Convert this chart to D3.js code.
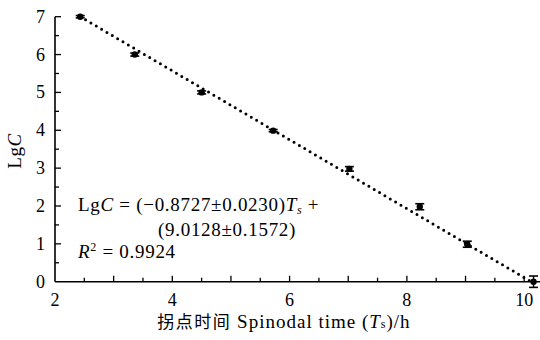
<!DOCTYPE html>
<html>
<head>
<meta charset="utf-8">
<script src="https://cdn.jsdelivr.net/npm/d3@7"></script>
<style>
  body { margin: 0; background: #fff; }
  svg text { font-family: "Liberation Serif", "Times New Roman", serif; fill: #000; }
</style>
</head>
<body>
<svg width="540" height="340"></svg>
<script>
// data
var spinodalTime = [2.43, 3.36, 4.50, 5.72, 7.02, 8.22, 9.03, 10.16];
var lgC          = [7.00, 6.00, 5.00, 3.99, 2.98, 1.98, 0.99, 0.00];
var lgCError     = [0.03, 0.04, 0.04, 0.03, 0.06, 0.08, 0.08, 0.15];
var fitX = [2.43, 10.12];   // dotted fit line ends
var fitY = [7.00, 0.00];
var xTicks = [2, 4, 6, 8, 10];
var yTicks = [0, 1, 2, 3, 4, 5, 6, 7];

var svg = d3.select("svg");

var x = d3.scaleLinear().domain([2, 10.27]).range([55, 540]);
var y = d3.scaleLinear().domain([0, 7]).range([281.7, 16.7]);

// x axis, inward ticks
var xAxis = svg.append("g").attr("transform", "translate(0," + y(0) + ")");
xAxis.append("line").attr("x1", x(2)).attr("x2", 540).attr("stroke", "#000").attr("stroke-width", 1.6);
xAxis.selectAll(".minor")
  .data(d3.range(2.5, 10.3, 0.5))
  .enter().append("line")
  .attr("x1", function(d) { return x(d); })
  .attr("x2", function(d) { return x(d); })
  .attr("y1", 0)
  .attr("y2", function(d) { return Number.isInteger(d) ? -6 : -4; })
  .attr("stroke", "#000").attr("stroke-width", 1.3);
xAxis.selectAll(".lab")
  .data(xTicks)
  .enter().append("text")
  .attr("x", function(d) { return x(d); })
  .attr("y", 24)
  .attr("text-anchor", "middle")
  .attr("font-size", 18)
  .text(function(d) { return d; });

// y axis, inward ticks
var yAxis = svg.append("g").attr("transform", "translate(" + x(2) + ",0)");
yAxis.append("line").attr("y1", y(0)).attr("y2", y(7)).attr("stroke", "#000").attr("stroke-width", 1.6);
yAxis.selectAll(".minor")
  .data(d3.range(0.5, 7.01, 0.5))
  .enter().append("line")
  .attr("y1", function(d) { return y(d); })
  .attr("y2", function(d) { return y(d); })
  .attr("x1", 0)
  .attr("x2", function(d) { return Number.isInteger(d) ? 6 : 4; })
  .attr("stroke", "#000").attr("stroke-width", 1.3);
yAxis.selectAll(".lab")
  .data(yTicks)
  .enter().append("text")
  .attr("x", -10)
  .attr("y", function(d) { return y(d) + 6; })
  .attr("text-anchor", "end")
  .attr("font-size", 18)
  .text(function(d) { return d; });

// axis titles
var yTitle = svg.append("text")
  .attr("transform", "translate(21,151) rotate(-90)")
  .attr("text-anchor", "middle")
  .attr("font-size", 19)
  .attr("letter-spacing", 0.6);
yTitle.append("tspan").text("Lg");
yTitle.append("tspan").attr("font-style", "italic").text("C");

var xTitle = svg.append("text")
  .attr("x", 284)
  .attr("y", 328)
  .attr("text-anchor", "middle")
  .attr("font-size", 19)
  .attr("letter-spacing", 1);
xTitle.append("tspan").attr("font-family", "Noto Sans CJK SC").attr("font-size", 17).attr("letter-spacing", 1.5).text("拐点时间");
xTitle.append("tspan").text(" Spinodal time (");
xTitle.append("tspan").attr("font-style", "italic").text("T");
xTitle.append("tspan").attr("font-size", 12).text("s");
xTitle.append("tspan").text(")/h");

// dotted fit line
var line = d3.line()
  .x(function(d) { return x(d[0]); })
  .y(function(d) { return y(d[1]); });
svg.append("path")
  .datum(d3.zip(fitX, fitY))
  .attr("d", line)
  .attr("fill", "none")
  .attr("stroke", "#000")
  .attr("stroke-width", 3)
  .attr("stroke-linecap", "round")
  .attr("stroke-dasharray", "0,6.2");

// error bars and points
var pts = svg.append("g").selectAll("g")
  .data(d3.range(spinodalTime.length))
  .enter().append("g");
pts.append("line")
  .attr("x1", function(i) { return x(spinodalTime[i]); })
  .attr("x2", function(i) { return x(spinodalTime[i]); })
  .attr("y1", function(i) { return y(lgC[i] - lgCError[i]); })
  .attr("y2", function(i) { return y(lgC[i] + lgCError[i]); })
  .attr("stroke", "#000").attr("stroke-width", 1.4);
[-1, 1].forEach(function(s) {
  pts.append("line")
    .attr("x1", function(i) { return x(spinodalTime[i]) - 4.5; })
    .attr("x2", function(i) { return x(spinodalTime[i]) + 4.5; })
    .attr("y1", function(i) { return y(lgC[i] + s * lgCError[i]); })
    .attr("y2", function(i) { return y(lgC[i] + s * lgCError[i]); })
    .attr("stroke", "#000").attr("stroke-width", 1.6);
});
pts.append("circle")
  .attr("cx", function(i) { return x(spinodalTime[i]); })
  .attr("cy", function(i) { return y(lgC[i]); })
  .attr("r", 3.2)
  .attr("fill", "#000");

// equation
var eq = svg.append("g").attr("font-size", 19).attr("letter-spacing", 0.7);
var l1 = eq.append("text").attr("x", 78).attr("y", 211);
l1.append("tspan").text("Lg");
l1.append("tspan").attr("font-style", "italic").text("C");
l1.append("tspan").text(" = (\u22120.8727\u00b10.0230)");
l1.append("tspan").attr("font-style", "italic").text("T");
l1.append("tspan").attr("font-style", "italic").attr("font-size", 12).attr("dy", 3).text("s");
l1.append("tspan").attr("dy", -3).text(" +");
eq.append("text").attr("x", 158).attr("y", 236).text("(9.0128\u00b10.1572)");
var l3 = eq.append("text").attr("x", 78).attr("y", 258);
l3.append("tspan").attr("font-style", "italic").text("R");
l3.append("tspan").attr("font-size", 12).attr("dy", -7).text("2");
l3.append("tspan").attr("dy", 7).text(" = 0.9924");
</script>
</body>
</html>
